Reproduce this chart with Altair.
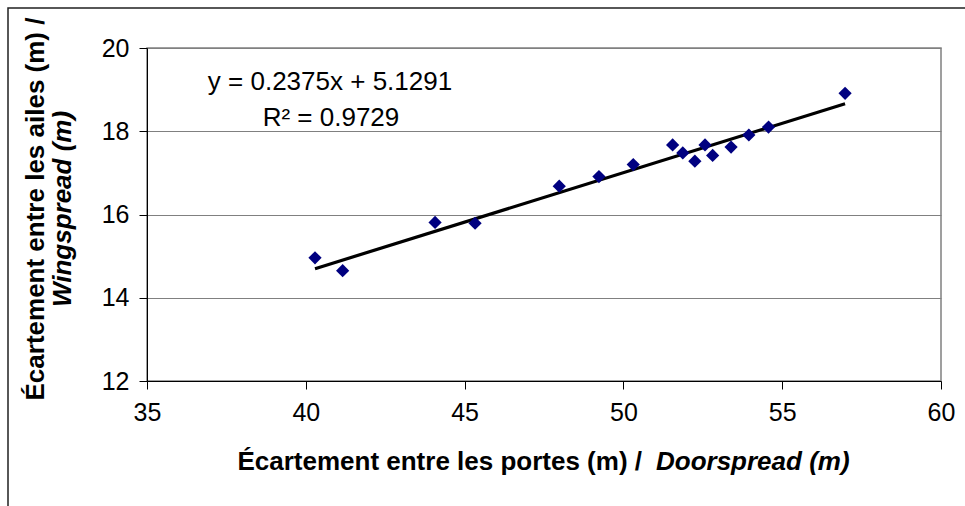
import altair as alt
import pandas as pd

# Door spread vs wing spread measurements (m)
doorspread = [40.29, 41.16, 44.07, 45.33, 47.98, 49.23, 50.31, 51.55,
              51.87, 52.25, 52.57, 52.81, 53.39, 53.95, 54.57, 56.98]
wingspread = [14.96, 14.65, 15.81, 15.79, 16.68, 16.91, 17.20, 17.67,
              17.48, 17.28, 17.67, 17.42, 17.62, 17.91, 18.10, 18.91]

# Linear fit reported for the series
slope = 0.2375
intercept = 5.1291
r_squared = 0.9729

x_ticks = [35, 40, 45, 50, 55, 60]
y_ticks = [12, 14, 16, 18, 20]

FONT = "Liberation Sans"
W, H = 794, 333

points = pd.DataFrame({"door": doorspread, "wing": wingspread})
x_lo, x_hi = min(doorspread), max(doorspread)
trend = pd.DataFrame({
    "door": [x_lo, x_hi],
    "wing": [slope * x_lo + intercept, slope * x_hi + intercept],
})

x_scale = alt.Scale(domain=[35, 60], nice=False, zero=False)
y_scale = alt.Scale(domain=[12, 20], nice=False, zero=False)

x_axis = alt.Axis(values=x_ticks, title=None, grid=False, domainColor="black",
                  tickColor="black", tickSize=8, labelFontSize=25, labelFont=FONT,
                  labelColor="black", labelPadding=11, labelFlush=False)
y_axis = alt.Axis(values=y_ticks, title=None, grid=True, gridColor="#808080",
                  domainColor="black", tickColor="black", tickSize=8,
                  labelFontSize=25, labelFont=FONT, labelColor="black",
                  labelPadding=10, labelFlush=False)

scatter = alt.Chart(points).mark_point(
    shape="diamond", filled=True, color="#000080", size=175, opacity=1
).encode(
    x=alt.X("door:Q", scale=x_scale, axis=x_axis),
    y=alt.Y("wing:Q", scale=y_scale, axis=y_axis),
)

line = alt.Chart(trend).mark_line(color="black", strokeWidth=3.2).encode(
    x=alt.X("door:Q", scale=x_scale),
    y=alt.Y("wing:Q", scale=y_scale),
)

one = pd.DataFrame({"k": [0]})

def label(text, x, y, size=24, weight="normal", style="normal", align="center",
          angle=0, baseline="middle"):
    return alt.Chart(one).mark_text(
        text=text, font=FONT, fontSize=size, fontWeight=weight, fontStyle=style,
        align=align, baseline=baseline, angle=angle, color="black", clip=False
    ).encode(x=alt.value(x), y=alt.value(y))

eq1 = label(f"y = {slope}x + {intercept}", 183, 34, size=26)
eq2 = label(f"R\u00b2 = {r_squared}", 184, 70, size=26)

xt1 = label("Écartement entre les portes (m) /", 495, 422, size=26,
            weight="bold", align="right", baseline="alphabetic")
xt2 = label("Doorspread (m)", 509, 422, size=26, weight="bold",
            style="italic", align="left", baseline="alphabetic")

yt1 = label("Écartement entre les ailes (m) /", -111, 161, size=26,
            weight="bold", angle=270)
yt2 = label("Wingspread (m)", -84, 161, size=26, weight="bold",
            style="italic", angle=270)

frame = alt.Chart(one).mark_rect(
    fill=None, stroke="#202020", strokeWidth=1.5, clip=False
).encode(
    x=alt.value(-139), x2=alt.value(W + 120),
    y=alt.value(-40), y2=alt.value(H + 200),
)

chart = alt.layer(frame, line, scatter, eq1, eq2, xt1, xt2, yt1, yt2).properties(
    width=W, height=H,
    autosize=alt.AutoSizeParams(type="none"),
    padding={"left": 147, "top": 48, "right": 24, "bottom": 125},
    background="white",
).configure_view(stroke="#808080", strokeWidth=1.5)

chart.save("out.html", embed_options={"renderer": "svg", "actions": False})
